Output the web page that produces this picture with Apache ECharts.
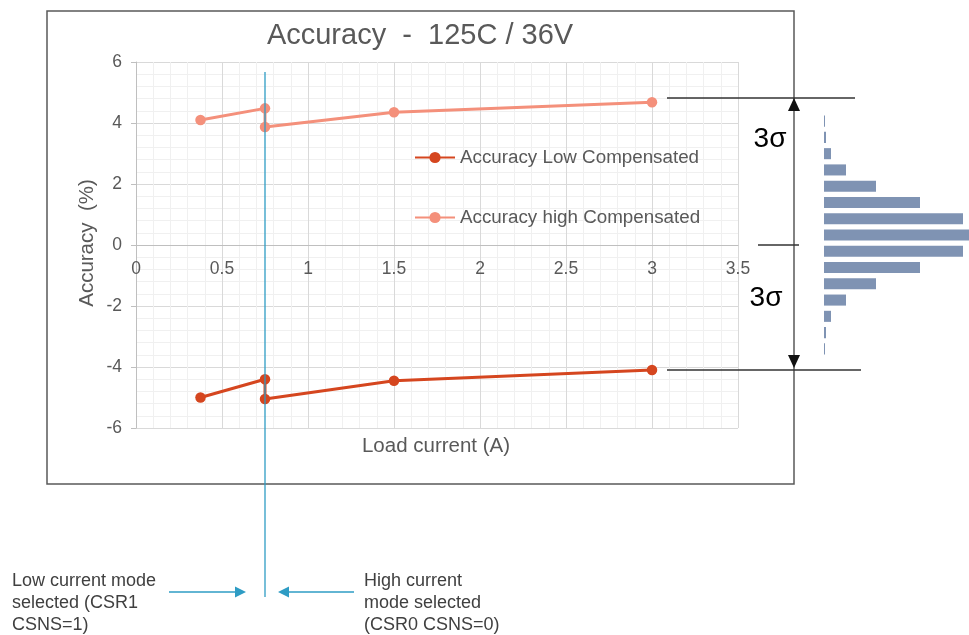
<!DOCTYPE html>
<html>
<head>
<meta charset="utf-8">
<script src="https://cdn.jsdelivr.net/npm/echarts@6/dist/echarts.min.js"></script>
<style>
html,body{margin:0;padding:0;background:#fff;}
#c{width:969px;height:635px;}
</style>
</head>
<body>
<div id="c"></div>
<script>
// ---- data ----
const lowComp = [[0.375, -5.0], [0.75, -4.4], [0.75, -5.05], [1.5, -4.45], [3, -4.1]];
const highComp = [[0.375, 4.1], [0.75, 4.48], [0.75, 3.87], [1.5, 4.35], [3, 4.68]];
const modeSwitchCurrent = 0.75;
const histBins = ['+3.5σ','+3.0σ','+2.5σ','+2.0σ','+1.5σ','+1.0σ','+0.5σ','0','-0.5σ','-1.0σ','-1.5σ','-2.0σ','-2.5σ','-3.0σ','-3.5σ'];
const histCounts = [1, 2, 7, 22, 52, 96, 139, 146, 139, 96, 52, 22, 7, 2, 1];
const xTicks = {min: 0, max: 3.5, interval: 0.5};
const yTicks = {min: -6, max: 6, interval: 2};

const FONT = "'Liberation Sans', Arial, sans-serif";
const GRAY = '#595959';
const TEAL = '#2E9CC4';
const LOW_C = '#D5461F';
const HIGH_C = '#F4907B';
const DARK = '#404040';

const GRID_H = 366;
// move the x axis up to y = 0 (the value axis crosses at zero)
const xAxisOffset = -GRID_H * (0 - yTicks.min) / (yTicks.max - yTicks.min);

const chart = echarts.init(document.getElementById('c'), null, {renderer: 'canvas'});

const option = {
  backgroundColor: '#fff',
  animation: false,
  textStyle: {fontFamily: FONT},
  title: {
    text: 'Accuracy  -  125C / 36V',
    left: 415, top: 16, textAlign: 'center',
    textStyle: {fontFamily: FONT, fontSize: 29, fontWeight: 'normal', color: GRAY}
  },
  legend: [
    {data: ['Accuracy Low Compensated'], left: 409, top: 143, itemWidth: 40, itemHeight: 14, itemGap: 5,
     textStyle: {fontFamily: FONT, fontSize: 18.8, color: GRAY}, selectedMode: false},
    {data: ['Accuracy high Compensated'], left: 409, top: 203, itemWidth: 40, itemHeight: 14, itemGap: 5,
     textStyle: {fontFamily: FONT, fontSize: 18.8, color: GRAY}, selectedMode: false}
  ],
  grid: [
    {left: 136, top: 62, width: 602, height: GRID_H, containLabel: false, outerBoundsMode: 'none'},
    {left: 824, top: 113, width: 150, height: 244, containLabel: false, outerBoundsMode: 'none'}
  ],
  xAxis: [
    {
      type: 'value', gridIndex: 0, min: xTicks.min, max: xTicks.max, interval: xTicks.interval,
      position: 'bottom', offset: xAxisOffset,
      axisLine: {show: true, onZero: false, lineStyle: {color: '#BFBFBF', width: 1}},
      axisTick: {show: false},
      axisLabel: {fontFamily: FONT, fontSize: 17.5, color: GRAY, margin: 15},
      splitLine: {show: true, lineStyle: {color: '#D9D9D9', width: 1}},
      minorTick: {show: false, splitNumber: 5},
      minorSplitLine: {show: true, lineStyle: {color: '#F0F0F0', width: 1}}
    },
    {
      type: 'value', gridIndex: 1, min: 0, max: 150, show: false
    }
  ],
  yAxis: [
    {
      type: 'value', gridIndex: 0, min: yTicks.min, max: yTicks.max, interval: yTicks.interval,
      axisLine: {show: true, lineStyle: {color: '#BFBFBF', width: 1}},
      axisTick: {show: true, length: 5, lineStyle: {color: '#BFBFBF'}},
      axisLabel: {fontFamily: FONT, fontSize: 17.5, color: GRAY, margin: 14},
      splitLine: {show: true, lineStyle: {color: '#D9D9D9', width: 1}},
      minorTick: {show: false, splitNumber: 5},
      minorSplitLine: {show: true, lineStyle: {color: '#F0F0F0', width: 1}}
    },
    {
      type: 'category', gridIndex: 1, data: histBins, inverse: true, show: false
    }
  ],
  series: [
    {
      name: 'Accuracy Low Compensated', type: 'line', xAxisIndex: 0, yAxisIndex: 0,
      data: lowComp, symbol: 'circle', symbolSize: 10.5, z: 5,
      lineStyle: {color: LOW_C, width: 3}, itemStyle: {color: LOW_C}
    },
    {
      name: 'Accuracy high Compensated', type: 'line', xAxisIndex: 0, yAxisIndex: 0,
      data: highComp, symbol: 'circle', symbolSize: 10.5, z: 5,
      lineStyle: {color: HIGH_C, width: 3}, itemStyle: {color: HIGH_C}
    },
    {
      name: 'histogram', type: 'bar', xAxisIndex: 1, yAxisIndex: 1,
      data: histCounts, barCategoryGap: '32%',
      itemStyle: {color: '#7F93B3'}, silent: true
    }
  ]
};
chart.setOption(option);

// annotations
const vx = chart.convertToPixel({gridIndex: 0}, [modeSwitchCurrent, 0])[0];
const txt = (id, x, y, text, size, color, align, rot) => ({
  type: 'text', id, x, y, rotation: rot || 0,
  style: {text, fontFamily: FONT, fontSize: size, fill: color, textAlign: align || 'left', textVerticalAlign: 'middle', lineHeight: 22}
});
const seg = (id, x1, y1, x2, y2, color, w) => ({
  type: 'line', id, shape: {x1, y1, x2, y2}, style: {stroke: color, lineWidth: w || 1.3}, z: 10
});
const tri = (id, pts, color) => ({type: 'polygon', id, shape: {points: pts}, style: {fill: color}, z: 10});

chart.setOption({
  graphic: [
    {type: 'rect', id: 'frame', shape: {x: 47, y: 11, width: 747, height: 473},
     style: {fill: 'none', stroke: GRAY, lineWidth: 1.5}, z: 1},
    txt('xName', 436, 446, 'Load current (A)', 20.5, GRAY, 'center'),
    txt('yName', 87, 243, 'Accuracy  (%)', 20.5, GRAY, 'center', Math.PI / 2),
    seg('modeLine', vx, 72, vx, 597, TEAL, 1.3),
    seg('arrL', 169, 592, 238, 592, TEAL, 1.5),
    tri('arrLh', [[235, 586.5], [246, 592], [235, 597.5]], TEAL),
    seg('arrR', 354, 592, 287, 592, TEAL, 1.5),
    tri('arrRh', [[289, 586.5], [278, 592], [289, 597.5]], TEAL),
    txt('lowTxt', 12, 603, 'Low current mode\nselected (CSR1\nCSNS=1)', 18, DARK),
    txt('highTxt', 364, 603, 'High current\nmode selected\n(CSR0 CSNS=0)', 18, DARK),
    seg('topSig', 667, 98, 855, 98, '#333', 1.3),
    seg('botSig', 667, 370, 861, 370, '#333', 1.3),
    seg('midSig', 758, 245, 799, 245, '#333', 1.3),
    tri('upHead', [[794, 98], [788, 111], [800, 111]], '#111'),
    tri('dnHead', [[794, 368], [788, 355], [800, 355]], '#111'),
    txt('sig1', 770, 139, '3σ', 28, '#000', 'center'),
    txt('sig2', 766, 298, '3σ', 28, '#000', 'center')
  ]
});
</script>
</body>
</html>
